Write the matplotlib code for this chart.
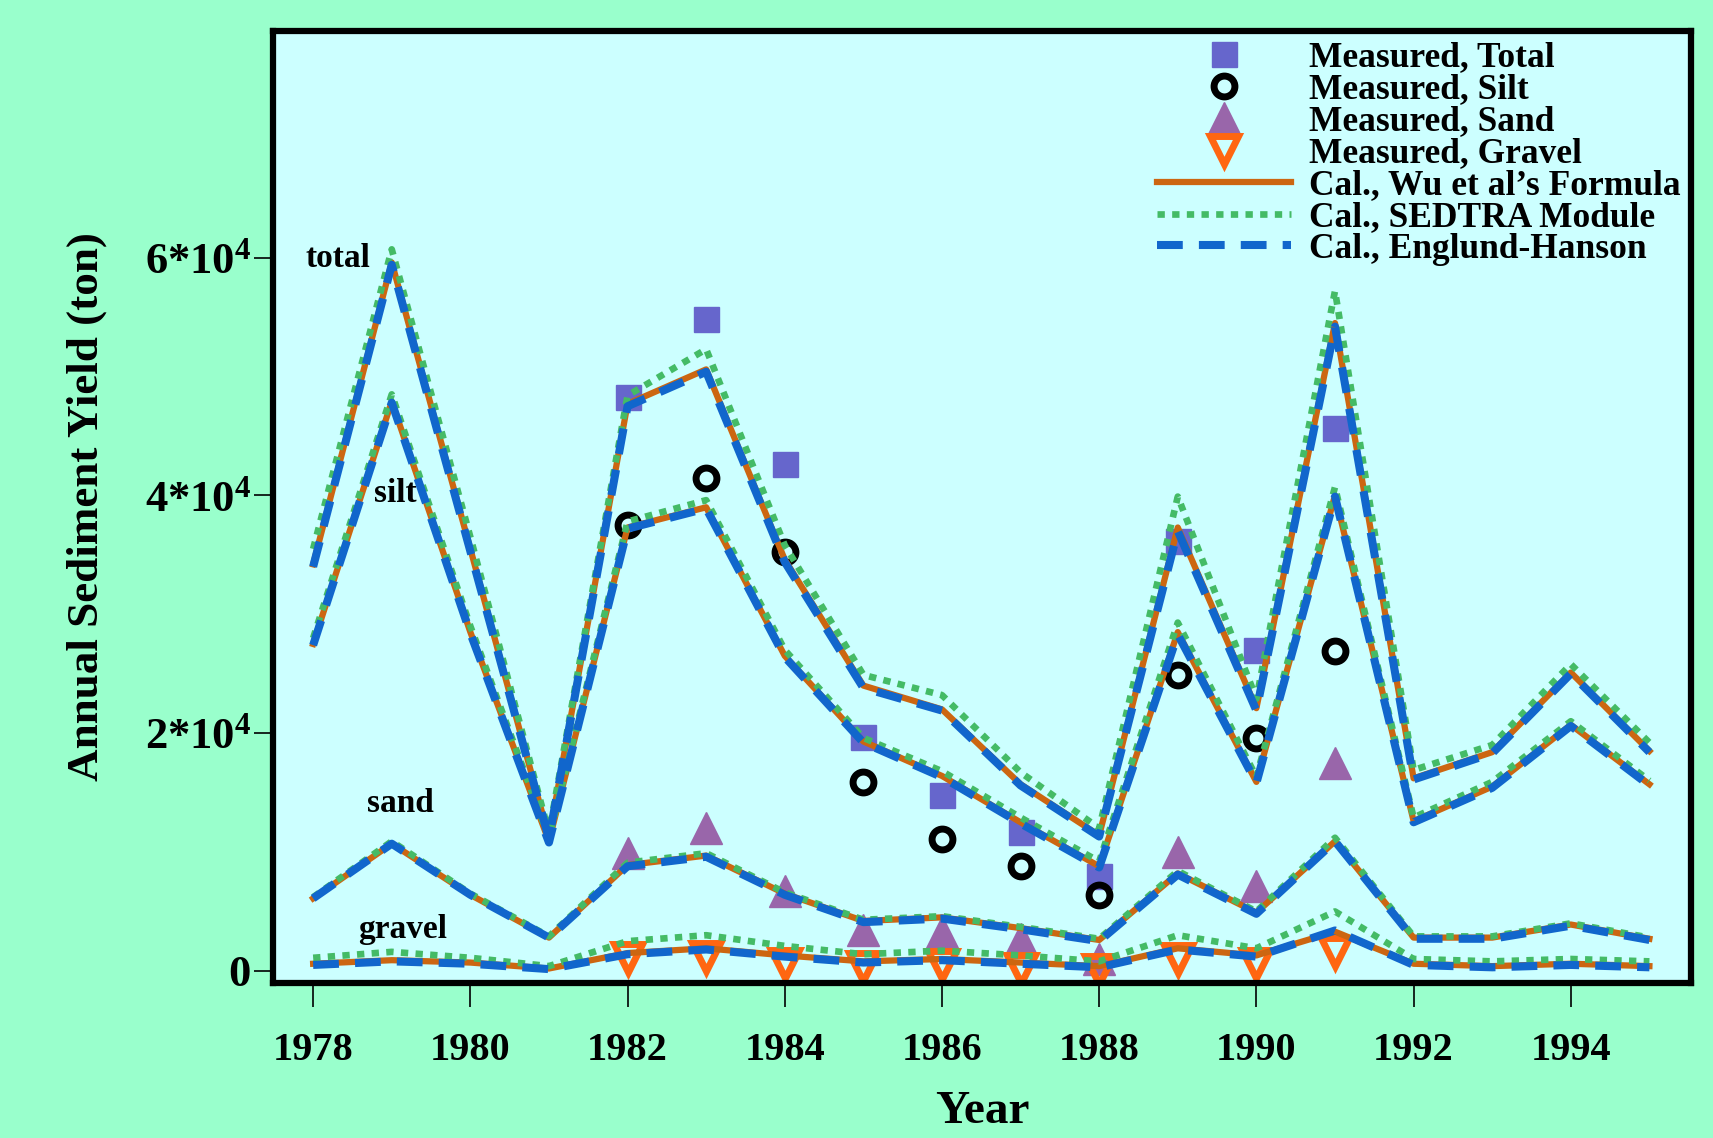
import numpy as np
import matplotlib.pyplot as plt

plt.rcParams['font.family'] = ['Liberation Serif', 'DejaVu Serif']
plt.rcParams['font.weight'] = 'bold'
plt.rcParams['axes.labelweight'] = 'bold'
plt.rcParams['mathtext.fontset'] = 'custom'
plt.rcParams['mathtext.rm'] = 'Liberation Serif:bold'
plt.rcParams['mathtext.it'] = 'Liberation Serif:bold'
plt.rcParams['mathtext.bf'] = 'Liberation Serif:bold'

# calculated yields, 1978-1995
years = [1978, 1979, 1980, 1981, 1982, 1983, 1984, 1985, 1986,
         1987, 1988, 1989, 1990, 1991, 1992, 1993, 1994, 1995]

wu_total = [34200, 59600, 35500, 11200, 47700, 50600, 34600, 24000, 22000,
            15700, 11400, 37300, 22100, 54500, 16200, 18400, 25100, 18500]
sed_total = [35500, 60700, 36500, 11600, 48400, 52300, 35800, 24900, 23200,
             16700, 12000, 39900, 22900, 57200, 16900, 19000, 25800, 19200]
eh_total = [34000, 59400, 35300, 11100, 47500, 50400, 34400, 23800, 21900,
            15600, 11300, 37000, 21900, 54200, 16100, 18300, 25000, 18400]

wu_silt = [27500, 47900, 28500, 10900, 37300, 39000, 26500, 19300, 16400,
           12500, 8800, 28500, 15900, 40000, 12600, 15500, 20700, 15700]
sed_silt = [28000, 48500, 29000, 11200, 37800, 39600, 27000, 19600, 16800,
            12900, 9200, 29300, 16300, 40700, 12900, 15900, 21000, 16000]
eh_silt = [27400, 47800, 28400, 10800, 37200, 38900, 26400, 19200, 16300,
           12400, 8700, 28300, 15800, 39900, 12500, 15400, 20600, 15600]

wu_sand = [6100, 10700, 6400, 2800, 8900, 9700, 6500, 4200, 4500,
           3600, 2600, 8200, 4900, 10900, 2800, 2800, 3900, 2700]
sed_sand = [6200, 10900, 6500, 2900, 9100, 9900, 6600, 4300, 4600,
            3700, 2700, 8400, 5000, 11200, 2900, 2900, 4000, 2800]
eh_sand = [6100, 10700, 6400, 2800, 8800, 9600, 6400, 4100, 4400,
           3500, 2500, 8100, 4800, 10900, 2700, 2700, 3800, 2600]

wu_gravel = [600, 900, 700, 200, 1500, 1900, 1300, 800, 1000,
             700, 400, 1900, 1300, 3300, 600, 400, 600, 400]
sed_gravel = [1100, 1600, 1100, 400, 2500, 3000, 2100, 1400, 1700,
              1300, 800, 3000, 1900, 5000, 1000, 800, 1000, 800]
eh_gravel = [500, 800, 600, 150, 1400, 1800, 1200, 700, 900,
             600, 300, 1800, 1200, 3400, 500, 300, 500, 300]

# measured yields, 1982-1991
meas_years = [1982, 1983, 1984, 1985, 1986, 1987, 1988, 1989, 1990, 1991]
meas_total = [48300, 54800, 42600, 19700, 14800, 11700, 8000, 36200, 27000, 45700]
meas_silt = [37500, 41500, 35200, 15900, 11100, 8800, 6400, 24900, 19600, 26900]
meas_sand = [9900, 12000, 6700, 3400, 3300, 2700, 1000, 10000, 7100, 17500]
meas_gravel = [1100, 1200, 600, 300, 500, 200, 100, 1000, 600, 1600]

fig = plt.figure(figsize=(17.13, 11.38), dpi=100, facecolor='#99FFCC')
ax = fig.add_axes([0.1594, 0.1363, 0.8278, 0.8368], facecolor='#CCFFFF')

# measured points go underneath the calculated curves
ax.plot(meas_years, meas_total, 's', ms=18, color='#6666CC', label='Measured, Total', zorder=2)
ax.plot(meas_years, meas_silt, 'o', ms=15, mfc='none', mec='black', mew=5,
        label='Measured, Silt', zorder=2)
ax.plot(meas_years, meas_sand, '^', ms=23, color='#9966AA', label='Measured, Sand', zorder=2)
ax.plot(meas_years, meas_gravel, 'v', ms=20, mfc='none', mec='#FF6611', mew=5,
        label='Measured, Gravel', zorder=2)

groups = [(wu_total, sed_total, eh_total),
          (wu_silt, sed_silt, eh_silt),
          (wu_sand, sed_sand, eh_sand),
          (wu_gravel, sed_gravel, eh_gravel)]

for i, (wu, sed, eh) in enumerate(groups):
    ax.plot(years, wu, '-', color='#CC6611', lw=4.5,
            label="Cal., Wu et al\u2019s Formula" if i == 0 else None, zorder=3)
for i, (wu, sed, eh) in enumerate(groups):
    ax.plot(years, sed, ':', color='#44BB66', lw=4.8, dashes=(1.1, 1.1),
            label='Cal., SEDTRA Module' if i == 0 else None, zorder=4)
for i, (wu, sed, eh) in enumerate(groups):
    ax.plot(years, eh, '--', color='#1166CC', lw=5.8, dashes=(3.2, 2.0),
            label='Cal., Englund-Hanson' if i == 0 else None, zorder=5)

# curve names
ax.text(1978.32, 59900, 'total', fontsize=24, ha='center', va='center', zorder=6)
ax.text(1979.04, 40150, 'silt', fontsize=24, ha='center', va='center', zorder=6)
ax.text(1979.11, 14060, 'sand', fontsize=24, ha='center', va='center', zorder=6)
ax.text(1979.14, 3490, 'gravel', fontsize=24, ha='center', va='center', zorder=6)

ax.set_xlim(1977.49, 1995.53)
ax.set_ylim(-1010, 79100)
ax.set_xticks([1978, 1980, 1982, 1984, 1986, 1988, 1990, 1992, 1994])
ax.set_yticks([0, 20000, 40000, 60000])
ax.set_yticklabels(['0', r'$2{*}10^{4}$', r'$4{*}10^{4}$', r'$6{*}10^{4}$'])
ax.tick_params(axis='x', direction='out', length=17, width=1.2, pad=18, labelsize=29)
ax.tick_params(axis='y', direction='out', length=14, width=1.2, pad=2, labelsize=32)

for sp in ax.spines.values():
    sp.set_linewidth(4.5)

ax.set_xlabel('Year', fontsize=34)
ax.xaxis.set_label_coords(0.5, -0.114)
ax.set_ylabel('Annual Sediment Yield (ton)', fontsize=32.5)
ax.yaxis.set_label_coords(-0.117, 0.5)

ax.legend(loc='upper right', bbox_to_anchor=(1.0, 1.0), frameon=False, fontsize=25.5,
          numpoints=1, labelspacing=-0.03, handlelength=3.8, handletextpad=0.5,
          borderpad=0.2, borderaxespad=0.1)

plt.savefig('out.png', dpi=100, facecolor=fig.get_facecolor())
